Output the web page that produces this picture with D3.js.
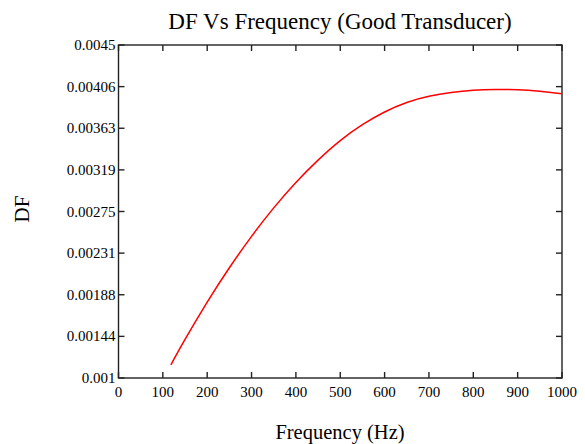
<!DOCTYPE html>
<html>
<head>
<meta charset="utf-8">
<script src="https://cdn.jsdelivr.net/npm/d3@7"></script>
<style>
body { margin: 0; background: #fff; }
text { font-family: "Liberation Serif", "Times New Roman", serif; fill: #000; }
</style>
</head>
<body>
<div id="chart"></div>
<script>
// frequency (Hz) and DF
var freq = [118, 150, 200, 250, 300, 350, 400, 450, 500, 550, 600, 650, 700, 750, 800, 850, 900, 950, 1000];
var df = [0.001137, 0.001405, 0.001798, 0.002159, 0.002489, 0.002788, 0.003055, 0.003290, 0.003495, 0.003662,
          0.003796, 0.003896, 0.003961, 0.004001, 0.004024, 0.004032, 0.004030, 0.004013, 0.003987];
var xTicks = [0, 100, 200, 300, 400, 500, 600, 700, 800, 900, 1000];
var yTicks = [0.001, 0.0014375, 0.001875, 0.0023125, 0.00275, 0.0031875, 0.003625, 0.0040625, 0.0045];
var yLabels = ["0.001", "0.00144", "0.00188", "0.00231", "0.00275", "0.00319", "0.00363", "0.00406", "0.0045"];

var W = 585, H = 444;
var pLeft = 118.5, pRight = 562, pTop = 45, pBottom = 378;

var svg = d3.select("#chart").append("svg")
    .attr("width", W)
    .attr("height", H);

var x = d3.scaleLinear().domain([0, 1000]).range([pLeft, pRight]);
var y = d3.scaleLinear().domain([0.001, 0.0045]).range([pBottom, pTop]);

// frame
svg.append("rect")
    .attr("x", pLeft).attr("y", pTop)
    .attr("width", pRight - pLeft).attr("height", pBottom - pTop)
    .attr("fill", "none").attr("stroke", "#222").attr("stroke-width", 1.4);

var tk = 6;
// inward ticks on all sides
xTicks.forEach(function (t) {
    svg.append("line").attr("x1", x(t)).attr("x2", x(t)).attr("y1", pBottom).attr("y2", pBottom - tk)
        .attr("stroke", "#222").attr("stroke-width", 1.4);
    svg.append("line").attr("x1", x(t)).attr("x2", x(t)).attr("y1", pTop).attr("y2", pTop + tk)
        .attr("stroke", "#222").attr("stroke-width", 1.4);
    svg.append("text").attr("x", x(t)).attr("y", 397)
        .attr("text-anchor", "middle").attr("font-size", "15px").text(t);
});

yTicks.forEach(function (t, i) {
    svg.append("line").attr("x1", pLeft).attr("x2", pLeft + tk).attr("y1", y(t)).attr("y2", y(t))
        .attr("stroke", "#222").attr("stroke-width", 1.4);
    svg.append("line").attr("x1", pRight).attr("x2", pRight - tk).attr("y1", y(t)).attr("y2", y(t))
        .attr("stroke", "#222").attr("stroke-width", 1.4);
    svg.append("text").attr("x", pLeft - 3).attr("y", y(t) + 5)
        .attr("text-anchor", "end").attr("font-size", "15px").text(yLabels[i]);
});

var line = d3.line()
    .x(function (d, i) { return x(freq[i]); })
    .y(function (d) { return y(d); })
    .curve(d3.curveNatural);

svg.append("path")
    .datum(df)
    .attr("d", line)
    .attr("fill", "none")
    .attr("stroke", "#ff0000")
    .attr("stroke-width", 1.5);

svg.append("text").attr("x", 340).attr("y", 29)
    .attr("text-anchor", "middle").attr("font-size", "23px")
    .text("DF Vs Frequency (Good Transducer)");

svg.append("text").attr("x", 340).attr("y", 439)
    .attr("text-anchor", "middle").attr("font-size", "20.5px")
    .text("Frequency (Hz)");

svg.append("text")
    .attr("transform", "translate(29,209) rotate(-90)")
    .attr("text-anchor", "middle").attr("font-size", "21px")
    .text("DF");
</script>
</body>
</html>
